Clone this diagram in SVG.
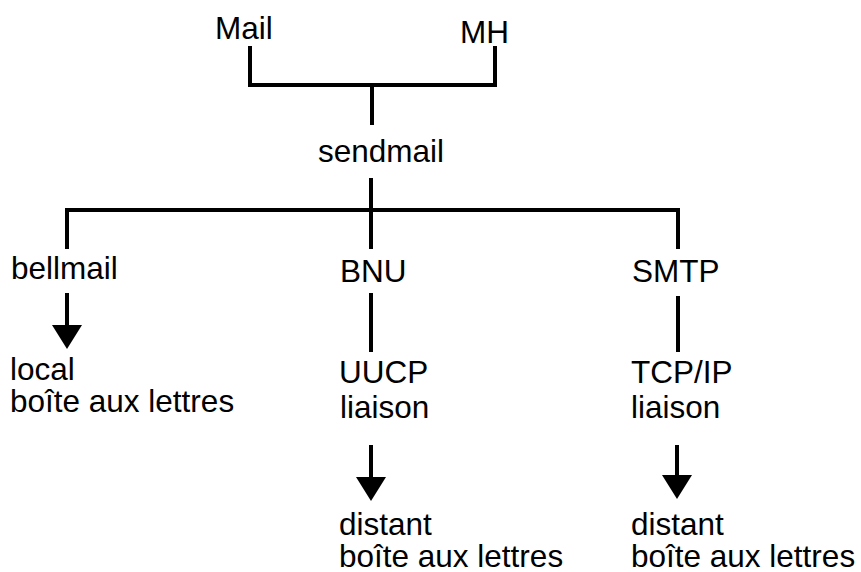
<svg xmlns="http://www.w3.org/2000/svg" width="861" height="572" viewBox="0 0 861 572">
  <style>
    .lbl { font-family: "Liberation Sans", Arial, Helvetica, sans-serif; font-size: 31.5px; fill: #000; }
    .wire { fill: none; stroke: #000; stroke-width: 4; stroke-linejoin: miter; stroke-linecap: butt; }
  </style>
  <defs>
    <marker id="ah" markerUnits="userSpaceOnUse" markerWidth="24" markerHeight="30" viewBox="0 0 24 30" refX="0" refY="15" orient="auto">
      <path d="M0,0 L24,15 L0,30 Z" fill="#000"/>
    </marker>
  </defs>
  <rect width="861" height="572" fill="#fff"/>

  <!-- connectors -->
  <g id="connectors">
    <path class="wire" d="M250,46 V85 H495 V46"/>
    <path class="wire" d="M372,85 V125"/>
    <path class="wire" d="M371,178 V210"/>
    <path class="wire" d="M67,249 V210 H678 V249"/>
    <path class="wire" d="M371,210 V249"/>
    <path class="wire" d="M67,293 V325" marker-end="url(#ah)"/>
    <path class="wire" d="M371,293 V352"/>
    <path class="wire" d="M678,296 V352"/>
    <path class="wire" d="M371,445 V477" marker-end="url(#ah)"/>
    <path class="wire" d="M677,445 V475" marker-end="url(#ah)"/>
  </g>

  <!-- nodes -->
  <g id="mail"><text class="lbl" x="215" y="39">Mail</text></g>
  <g id="mh"><text class="lbl" x="460" y="43">MH</text></g>
  <g id="sendmail"><text class="lbl" x="318" y="162">sendmail</text></g>
  <g id="bellmail"><text class="lbl" x="11" y="279">bellmail</text></g>
  <g id="bnu"><text class="lbl" x="340" y="282">BNU</text></g>
  <g id="smtp"><text class="lbl" x="632" y="282">SMTP</text></g>
  <g id="local-mailbox">
    <text class="lbl" x="10" y="380">local</text>
    <text class="lbl" x="10" y="412">boîte aux lettres</text>
  </g>
  <g id="uucp-link">
    <text class="lbl" x="339" y="383">UUCP</text>
    <text class="lbl" x="340" y="418">liaison</text>
  </g>
  <g id="tcpip-link">
    <text class="lbl" x="631" y="383">TCP/IP</text>
    <text class="lbl" x="631" y="418">liaison</text>
  </g>
  <g id="remote-mailbox-uucp">
    <text class="lbl" x="339" y="535">distant</text>
    <text class="lbl" x="339" y="567">boîte aux lettres</text>
  </g>
  <g id="remote-mailbox-tcpip">
    <text class="lbl" x="631" y="535">distant</text>
    <text class="lbl" x="631" y="567">boîte aux lettres</text>
  </g>
</svg>
